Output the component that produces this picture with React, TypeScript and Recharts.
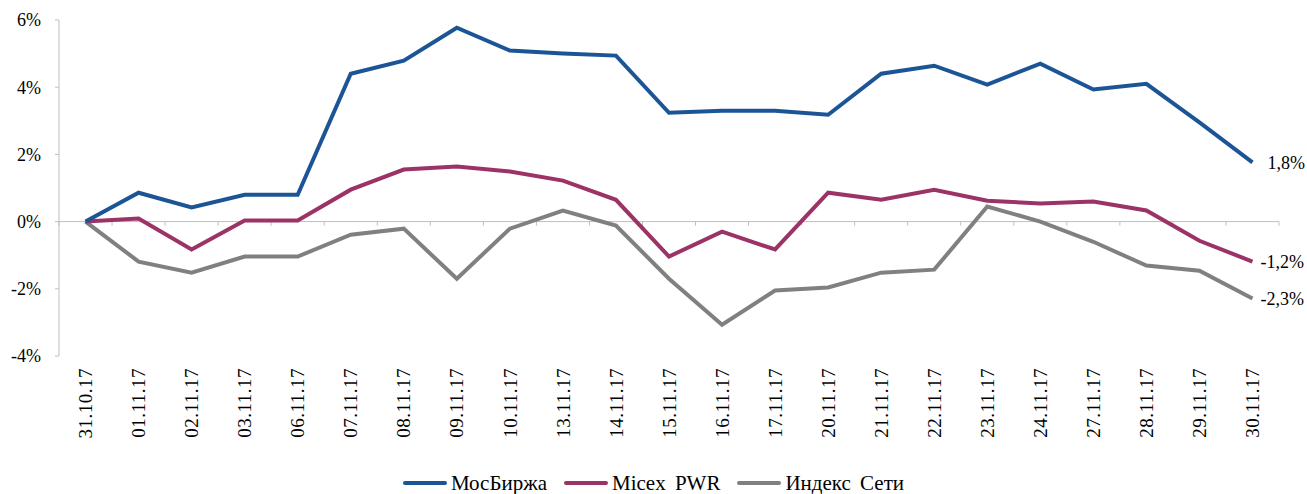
import React from 'react';
import { LineChart, Line, XAxis, YAxis, ReferenceLine } from 'recharts';

const categories = ['31.10.17','01.11.17','02.11.17','03.11.17','06.11.17','07.11.17','08.11.17','09.11.17','10.11.17','13.11.17','14.11.17','15.11.17','16.11.17','17.11.17','20.11.17','21.11.17','22.11.17','23.11.17','24.11.17','27.11.17','28.11.17','29.11.17','30.11.17'];
const mosBirzha = [0,0.86,0.42,0.8,0.8,4.4,4.79,5.77,5.09,5.0,4.94,3.24,3.3,3.3,3.18,4.4,4.64,4.08,4.7,3.93,4.1,2.95,1.76];
const micexPwr = [0,0.09,-0.83,0.03,0.03,0.95,1.55,1.64,1.49,1.22,0.65,-1.04,-0.3,-0.83,0.86,0.65,0.95,0.62,0.54,0.6,0.33,-0.57,-1.19];
const indexSeti = [0,-1.19,-1.52,-1.04,-1.04,-0.39,-0.21,-1.7,-0.21,0.33,-0.12,-1.7,-3.07,-2.05,-1.96,-1.52,-1.43,0.45,0,-0.6,-1.31,-1.46,-2.29];
const yTicks = [-4,-2,0,2,4,6];
const endLabels = ['1,8%','-1,2%','-2,3%'];

const seriesNames = ['МосБиржа','Micex PWR','Индекс Сети'];
const colors = ['#1C5596','#9C3366','#808080'];

const data = categories.map((c, i) => ({ idx: i, cat: c, mb: mosBirzha[i], mp: micexPwr[i], is: indexSeti[i] }));
const xTicks = categories.map((_, i) => i);
const boundaries = Array.from({ length: categories.length + 1 }, (_, i) => i - 0.5);

const FONT = "'Liberation Serif', 'Times New Roman', serif";

const XTick = (props: any) => {
  const { x, payload } = props;
  return (
    <g transform={`translate(${x},368)`}>
      <text transform="rotate(-90)" textAnchor="end" dy="0.35em" fontFamily={FONT} fontSize={19} letterSpacing={0.5} fill="#000">
        {categories[payload.value]}
      </text>
    </g>
  );
};

const makeEndLabel = (text: string, dx: number) => (props: any) => {
  const { x, y, index } = props;
  if (index !== categories.length - 1) return null;
  return (
    <text x={x + dx} y={y} dy="0.35em" fontFamily={FONT} fontSize={18} fill="#000">{text}</text>
  );
};

export default function App() {
  return (
    <div style={{ position: 'absolute', left: 0, top: 0, width: 1307, height: 494, background: '#fff', fontFamily: FONT, overflow: 'hidden' }}>
      <LineChart width={1307} height={494} data={data} margin={{ top: 20, right: 28, left: 0, bottom: 38 }}>
        <XAxis
          dataKey="idx"
          type="number"
          domain={[-0.5, categories.length - 0.5]}
          ticks={xTicks}
          interval={0}
          tick={<XTick />}
          axisLine={false}
          tickLine={false}
          height={100}
        />
        <YAxis
          domain={[-4, 6]}
          ticks={yTicks}
          width={59}
          tickFormatter={(v: number) => `${v}%`}
          tick={{ fontSize: 18, fill: '#000', fontFamily: FONT }}
          axisLine={{ stroke: '#BFBFBF', strokeWidth: 1 }}
          tickLine={{ stroke: '#BFBFBF' }}
          tickSize={4}
          tickMargin={14}
        />
        <ReferenceLine y={0} stroke="#BFBFBF" strokeWidth={1} />
        {boundaries.map((b) => (
          <ReferenceLine key={b} segment={[{ x: b, y: 0 }, { x: b, y: -0.12 }]} stroke="#BFBFBF" strokeWidth={1} />
        ))}
        <Line dataKey="is" stroke={colors[2]} strokeWidth={4} dot={false} isAnimationActive={false} label={makeEndLabel(endLabels[2], 8)} />
        <Line dataKey="mp" stroke={colors[1]} strokeWidth={4} dot={false} isAnimationActive={false} label={makeEndLabel(endLabels[1], 8)} />
        <Line dataKey="mb" stroke={colors[0]} strokeWidth={4} dot={false} isAnimationActive={false} label={makeEndLabel(endLabels[0], 15)} />
      </LineChart>
      <div style={{ position: 'absolute', left: 0, width: 1307, top: 473, height: 21, display: 'flex', justifyContent: 'center', alignItems: 'center', fontFamily: FONT, fontSize: 21, lineHeight: '21px', color: '#000' }}>
        {seriesNames.map((n, i) => (
          <div key={n} style={{ display: 'flex', alignItems: 'center', marginRight: i < 2 ? 17 : 0 }}>
            <svg width={44} height={8} style={{ marginRight: 4, marginTop: -2 }}>
              <line x1={2} y1={4} x2={42} y2={4} stroke={colors[i]} strokeWidth={4} strokeLinecap="round" />
            </svg>
            <span style={{ wordSpacing: 4, whiteSpace: 'pre' }}>{n}</span>
          </div>
        ))}
      </div>
    </div>
  );
}
